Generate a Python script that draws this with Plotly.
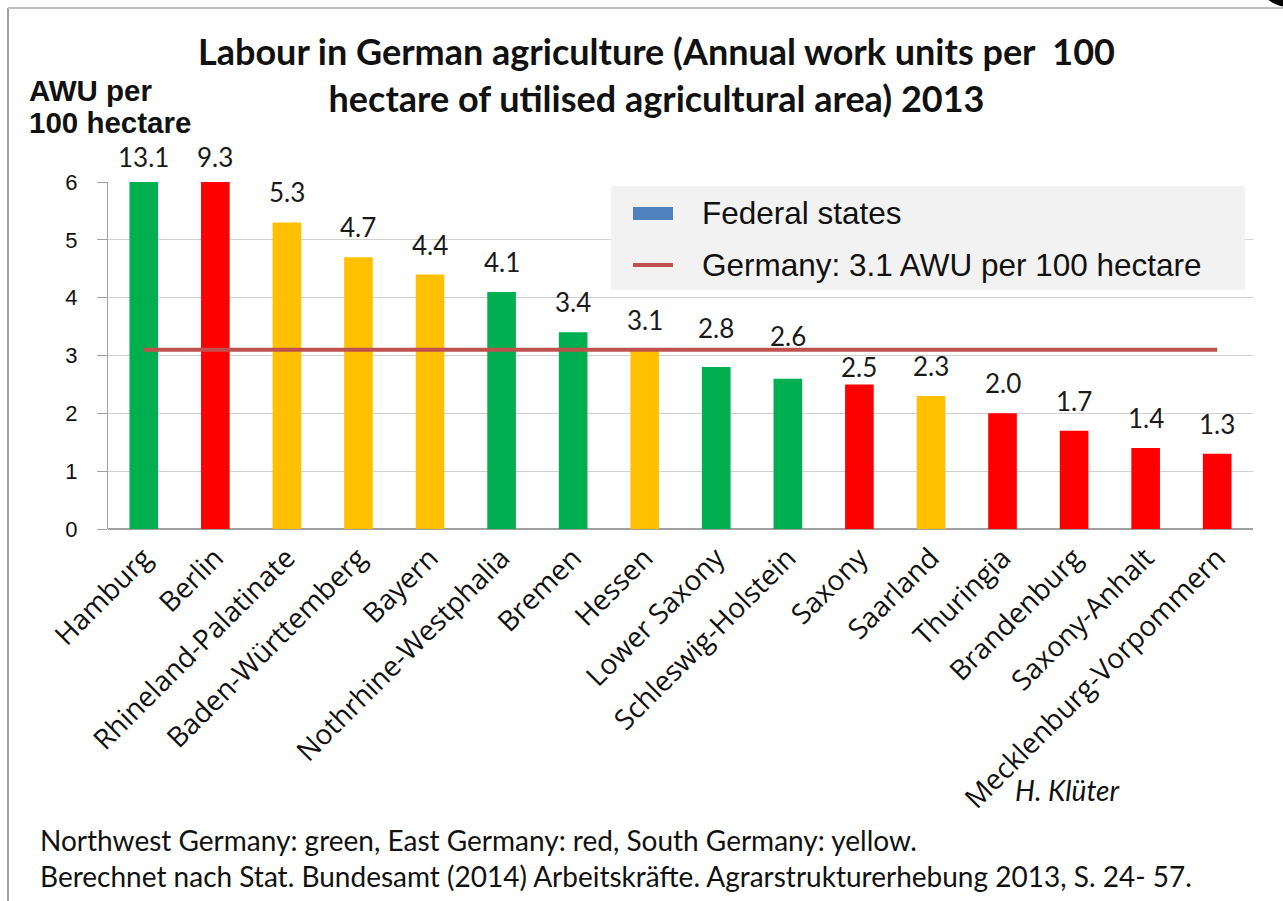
import plotly.graph_objects as go

# Annual work units (AWU) per 100 ha of utilised agricultural area, 2013
states = [
    "Hamburg", "Berlin", "Rhineland-Palatinate", "Baden-Württemberg", "Bayern",
    "Nothrhine-Westphalia", "Bremen", "Hessen", "Lower Saxony", "Schleswig-Holstein",
    "Saxony", "Saarland", "Thuringia", "Brandenburg", "Saxony-Anhalt",
    "Mecklenburg-Vorpommern",
]
awu = [13.1, 9.3, 5.3, 4.7, 4.4, 4.1, 3.4, 3.1, 2.8, 2.6, 2.5, 2.3, 2.0, 1.7, 1.4, 1.3]
region = [
    "NW", "E", "S", "S", "S", "NW", "NW", "S", "NW", "NW",
    "E", "S", "E", "E", "E", "E",
]
germany_avg = 3.1
y_ticks = [0, 1, 2, 3, 4, 5, 6]

REGION_COLORS = {"NW": "#00B050", "E": "#FF0000", "S": "#FFC000"}
Y_MAX = 6

# vertical distance (px) of a value label's centre above its bar top;
# a few labels are nudged away from the national average line
LABEL_OFFSET = 30
LABEL_OFFSET_OVERRIDE = {"Hamburg": 25, "Berlin": 25, "Lower Saxony": 39,
                         "Schleswig-Holstein": 43, "Saxony": 17}

W, H = 1283, 901
L, R, T, B = 108, 1253, 182, 529  # plot area in pixels


def px(x):
    return (x - L) / (R - L)


def py(y):
    return (B - y) / (B - T)


CALIBRI = "Lato, 'Open Sans', sans-serif"
ARIAL = "'Liberation Sans', Arial, sans-serif"

fig = go.Figure()

fig.add_trace(go.Bar(
    x=states,
    y=awu,
    marker=dict(color=[REGION_COLORS[r] for r in region], line=dict(width=0)),
    showlegend=False,
    hoverinfo="x+y",
))

fig.add_trace(go.Scatter(
    x=[states[0], states[-1]],
    y=[germany_avg, germany_avg],
    mode="lines",
    line=dict(color="#C0504D", width=4),
    showlegend=False,
))

annotations = []
# value labels above bars (bars taller than the axis are labelled at the top)
for s, v in zip(states, awu):
    annotations.append(dict(
        x=s, y=min(v, Y_MAX), xref="x", yref="y",
        text=f"{v:.1f}", showarrow=False,
        yanchor="middle", yshift=LABEL_OFFSET_OVERRIDE.get(s, LABEL_OFFSET),
        font=dict(family=CALIBRI, size=26, color="#1a1a1a"),
    ))

# title
annotations.append(dict(
    x=px(656), y=py(75), xref="paper", yref="paper",
    text="Labour in German agriculture (Annual work units per  100<br>hectare of utilised agricultural area) 2013",
    showarrow=False, xanchor="center", yanchor="middle", align="center",
    font=dict(family=CALIBRI, size=36, color="#111111", weight="bold"),
))
# y-axis unit
for text, ypos in (("AWU per", 90), ("100 hectare", 122)):
    annotations.append(dict(
        x=px(27), y=py(ypos), xref="paper", yref="paper",
        text=text, showarrow=False, xanchor="left", yanchor="middle",
        font=dict(family=ARIAL, size=29.5, color="#111111", weight="bold"),
    ))
# legend texts
annotations.append(dict(
    x=px(700), y=py(213), xref="paper", yref="paper",
    text="Federal states", showarrow=False, xanchor="left", yanchor="middle",
    font=dict(family=ARIAL, size=31.5, color="#111111"),
))
annotations.append(dict(
    x=px(700), y=py(265), xref="paper", yref="paper",
    text="Germany: 3.1 AWU per 100 hectare", showarrow=False,
    xanchor="left", yanchor="middle",
    font=dict(family=ARIAL, size=31.5, color="#111111"),
))
# author
annotations.append(dict(
    x=px(1013), y=py(790), xref="paper", yref="paper",
    text="<i>H. Klüter</i>", showarrow=False, xanchor="left", yanchor="middle",
    font=dict(family=CALIBRI, size=28, color="#111111"),
))
# notes
annotations.append(dict(
    x=px(38), y=py(858), xref="paper", yref="paper",
    text="Northwest Germany: green, East Germany: red, South Germany: yellow.<br>"
         "Berechnet nach Stat. Bundesamt (2014) Arbeitskräfte. Agrarstrukturerhebung 2013, S. 24- 57.",
    showarrow=False, xanchor="left", yanchor="middle", align="left",
    font=dict(family=CALIBRI, size=28, color="#111111"),
))

shapes = [
    # outer frame
    dict(type="line", xref="paper", yref="paper",
         x0=px(8), x1=px(8), y0=py(8), y1=py(905),
         line=dict(color="#A0A0A0", width=2)),
    dict(type="line", xref="paper", yref="paper",
         x0=px(8), x1=px(1290), y0=py(8), y1=py(8),
         line=dict(color="#C0C0C0", width=2)),
    # corner blot
    dict(type="circle", xref="paper", yref="paper",
         x0=px(1256), x1=px(1322), y0=py(-58), y1=py(7),
         fillcolor="#000000", line=dict(width=0)),
    # legend box
    dict(type="rect", xref="paper", yref="paper",
         x0=px(611), x1=px(1245), y0=py(186), y1=py(290),
         fillcolor="#F2F2F2", line=dict(width=0), layer="above"),
    dict(type="rect", xref="paper", yref="paper",
         x0=px(633), x1=px(673), y0=py(207), y1=py(220),
         fillcolor="#4F81BD", line=dict(width=0), layer="above"),
    dict(type="line", xref="paper", yref="paper",
         x0=px(633), x1=px(673), y0=py(265), y1=py(265),
         line=dict(color="#C0504D", width=4), layer="above"),
]

fig.update_layout(
    width=W, height=H,
    margin=dict(l=L, r=W - R, t=T, b=H - B),
    paper_bgcolor="white", plot_bgcolor="white",
    bargap=0.6,
    annotations=annotations,
    shapes=shapes,
    showlegend=False,
)

fig.update_xaxes(
    tickangle=-45,
    tickfont=dict(family="'Open Sans', Lato, sans-serif", size=28, color="#111111"),
    showline=False, showgrid=False, ticks="",
    ticklabelstandoff=6,
)
fig.update_yaxes(
    range=[0, Y_MAX],
    tickvals=y_ticks,
    tickfont=dict(family=ARIAL, size=22, color="#111111"),
    showgrid=True, gridcolor="#D0D0D0", gridwidth=1,
    zeroline=True, zerolinecolor="#A0A0A0", zerolinewidth=2,
    showline=True, linecolor="#A0A0A0", linewidth=1,
    ticks="outside", ticklen=10, tickcolor="#A0A0A0",
    ticklabelstandoff=15,
)

fig.write_html("out.html")
